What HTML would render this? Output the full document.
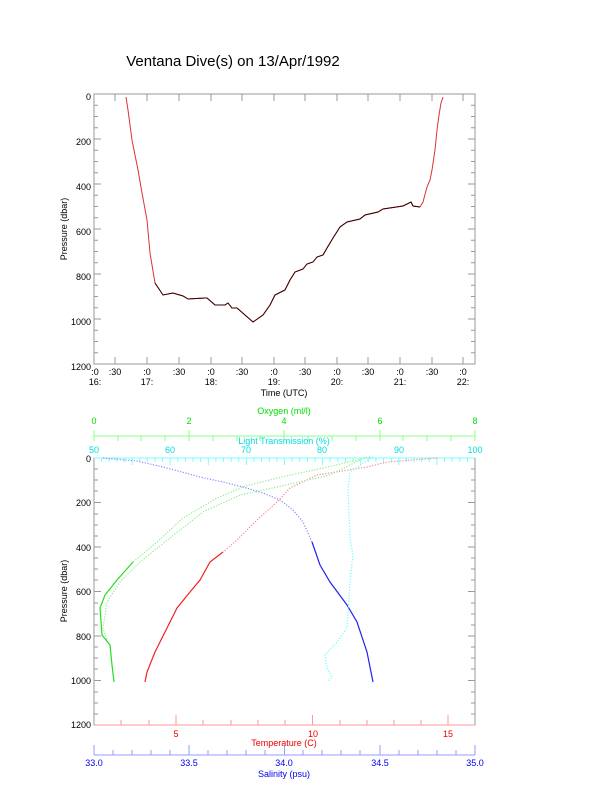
<!DOCTYPE html>
<html><head><meta charset="utf-8"><style>
body{margin:0;background:#fff}
svg{display:block}
text{font-family:"Liberation Sans",sans-serif;font-size:9px}
</style></head><body>
<svg width="612" height="785" viewBox="0 0 612 785" xmlns="http://www.w3.org/2000/svg">
<text x="233" y="66" text-anchor="middle" style="font-size:15px">Ventana Dive(s) on 13/Apr/1992</text>
<!-- top plot -->
<rect x="94" y="94" width="381" height="270" fill="none" stroke="#999" stroke-width="1"/>
<g stroke="#999" stroke-width="1" id="pt">
<path d="M94 105.25h4M94 116.5h4M94 127.75h4M94 139h7M94 150.25h4M94 161.5h4M94 172.75h4M94 184h7M94 195.25h4M94 206.5h4M94 217.75h4M94 229h7M94 240.25h4M94 251.5h4M94 262.75h4M94 274h7M94 285.25h4M94 296.5h4M94 307.75h4M94 319h7M94 330.25h4M94 341.5h4M94 352.75h4"/>
<path d="M475 105.25h-4M475 116.5h-4M475 127.75h-4M475 139h-7M475 150.25h-4M475 161.5h-4M475 172.75h-4M475 184h-7M475 195.25h-4M475 206.5h-4M475 217.75h-4M475 229h-7M475 240.25h-4M475 251.5h-4M475 262.75h-4M475 274h-7M475 285.25h-4M475 296.5h-4M475 307.75h-4M475 319h-7M475 330.25h-4M475 341.5h-4M475 352.75h-4"/>
<path d="M115 364v-7M147 364v-7M179 364v-7M211 364v-7M242 364v-7M274 364v-7M305 364v-7M337 364v-7M368 364v-7M400 364v-7M432 364v-7M463 364v-7"/>
<path d="M115 94v7M147 94v7M179 94v7M211 94v7M242 94v7M274 94v7M305 94v7M337 94v7M368 94v7M400 94v7M432 94v7M463 94v7"/>
</g>
<g text-anchor="end">
<text x="91" y="100">0</text><text x="91" y="145">200</text><text x="91" y="190">400</text><text x="91" y="235">600</text><text x="91" y="280">800</text><text x="91" y="325">1000</text><text x="91" y="370">1200</text>
</g>
<g text-anchor="middle">
<text x="95" y="375">:0</text><text x="115" y="375">:30</text><text x="147" y="375">:0</text><text x="179" y="375">:30</text><text x="211" y="375">:0</text><text x="242" y="375">:30</text><text x="274" y="375">:0</text><text x="305" y="375">:30</text><text x="337" y="375">:0</text><text x="368" y="375">:30</text><text x="400" y="375">:0</text><text x="432" y="375">:30</text><text x="463" y="375">:0</text>
<text x="95" y="385">16:</text><text x="147" y="385">17:</text><text x="211" y="385">18:</text><text x="274" y="385">19:</text><text x="337" y="385">20:</text><text x="400" y="385">21:</text><text x="463" y="385">22:</text>
<text x="284" y="396">Time (UTC)</text>
</g>
<text transform="translate(67,229) rotate(-90)" text-anchor="middle">Pressure (dbar)</text>
<polyline fill="none" stroke="#d33" stroke-width="1" points="126,97 128,110 130,125 132,140 135,155 138,170 142,193 147,220 150,253 155,283 163,295 173,293 183,296 188,299 205,298 207,298 215,305 225,305 228,303 232,308 237,308 245,315 253,322 263,315 270,305 275,295 285,290 290,280 295,272 303,269 307,264 313,262 317,257 323,255 327,248 333,238 340,227 347,222 360,219 365,215 378,212 383,209 403,206 411,202 413,206 420,207 423,202 427,187 430,180 432,170 435,150 437,130 439,115 441,103 443,97"/>
<polyline fill="none" stroke="#300" stroke-width="1" points="155,283 163,295 173,293 183,296 188,299 205,298 207,298 215,305 225,305 228,303 232,308 237,308 245,315 253,322 263,315 270,305 275,295 285,290 290,280 295,272 303,269 307,264 313,262 317,257 323,255 327,248 333,238 340,227 347,222 360,219 365,215 378,212 383,209 403,206 411,202 413,206 420,207"/>

<!-- bottom plot -->
<rect x="94" y="458" width="381" height="267" fill="none" stroke="#999"/>
<g stroke="#999">
<path d="M94 469h4M94 480h4M94 491h4M94 502.5h7M94 514h4M94 525h4M94 536h4M94 547h7M94 558h4M94 569h4M94 580h4M94 591.5h7M94 603h4M94 614h4M94 625h4M94 636h7M94 647h4M94 658h4M94 669h4M94 680.5h7M94 692h4M94 703h4M94 714h4"/>
<path d="M475 469h-4M475 480h-4M475 491h-4M475 502.5h-7M475 514h-4M475 525h-4M475 536h-4M475 547h-7M475 558h-4M475 569h-4M475 580h-4M475 591.5h-7M475 603h-4M475 614h-4M475 625h-4M475 636h-7M475 647h-4M475 658h-4M475 669h-4M475 680.5h-7M475 692h-4M475 703h-4M475 714h-4"/>
</g>
<g text-anchor="end">
<text x="91" y="462">0</text><text x="91" y="506">200</text><text x="91" y="551">400</text><text x="91" y="595">600</text><text x="91" y="640">800</text><text x="91" y="684">1000</text><text x="91" y="728">1200</text>
</g>
<text transform="translate(67,591) rotate(-90)" text-anchor="middle">Pressure (dbar)</text>
<!-- oxygen axis -->
<g stroke="#8f8"><path d="M94 436h381M94 430v11M118 436v5M141 436v5M165 436v5M189 430v11M213 436v5M237 436v5M260 436v5M284 430v11M308 436v5M332 436v5M356 436v5M380 430v11M403 436v5M427 436v5M451 436v5M475 430v11"/></g>
<g fill="#0d0" text-anchor="middle"><text x="94" y="424">0</text><text x="189" y="424">2</text><text x="284" y="424">4</text><text x="380" y="424">6</text><text x="475" y="424">8</text><text x="284" y="414">Oxygen (ml/l)</text></g>
<!-- light transmission -->
<g stroke="#7ff"><path d="M94 458h381M101.6 458v4M109.2 458v4M116.9 458v4M124.5 458v4M132.1 458v7M139.7 458v4M147.3 458v4M155 458v4M162.6 458v4M170.2 458v7M177.8 458v4M185.4 458v4M193.1 458v4M200.7 458v4M208.3 458v7M215.9 458v4M223.5 458v4M231.2 458v4M238.8 458v4M246.4 458v7M254 458v4M261.6 458v4M269.3 458v4M276.9 458v4M284.5 458v7M292.1 458v4M299.7 458v4M307.4 458v4M315 458v4M322.6 458v7M330.2 458v4M337.8 458v4M345.5 458v4M353.1 458v4M360.7 458v7M368.3 458v4M375.9 458v4M383.6 458v4M391.2 458v4M398.8 458v7M406.4 458v4M414 458v4M421.7 458v4M429.3 458v4M436.9 458v7M444.5 458v4M452.1 458v4M459.8 458v4M467.4 458v4"/></g>
<g fill="#0dd" text-anchor="middle"><text x="94" y="453">50</text><text x="170" y="453">60</text><text x="246" y="453">70</text><text x="322" y="453">80</text><text x="399" y="453">90</text><text x="475" y="453">100</text><text x="284" y="444">Light Transmission (%)</text></g>
<!-- temperature axis -->
<g stroke="#f99"><path d="M94 725h381M121 725v-5M149 725v-5M176 725v-10M203 725v-5M231 725v-5M258 725v-5M285 725v-5M312.5 725v-10M340 725v-5M367 725v-5M394 725v-5M421 725v-5M448 725v-10"/></g>
<g fill="#e00" text-anchor="middle"><text x="176" y="737">5</text><text x="313" y="737">10</text><text x="448" y="737">15</text><text x="284" y="746">Temperature (C)</text></g>
<!-- salinity axis -->
<g stroke="#99f"><path d="M94 755h381M94 745v10M113 750v5M132 750v5M151 750v5M170 750v5M189 745v10M208 750v5M227 750v5M246 750v5M265 750v5M284.5 745v10M303 750v5M322 750v5M341 750v5M360 750v5M380 745v10M399 750v5M418 750v5M437 750v5M456 750v5M475 745v10"/></g>
<g fill="#00e" text-anchor="middle"><text x="94" y="766">33.0</text><text x="189" y="766">33.5</text><text x="284" y="766">34.0</text><text x="380" y="766">34.5</text><text x="475" y="766">35.0</text><text x="284" y="777">Salinity (psu)</text></g>
<!-- profiles -->
<g fill="none" stroke-width="1.2" stroke-dasharray="1.2 1.6">
<polyline stroke="#88f" points="103,458 137,461 167,468 200,477 223,482 243,487 263,493 280,500 293,510 303,522 312,542"/>
<polyline stroke="#22e" stroke-dasharray="none" points="312,542 320,565 330,582 347,605 357,622 367,652 373,682"/>
<polyline stroke="#f88" points="437,458 387,462 367,467 317,475 290,488 277,502 257,520 237,540 223,552"/>
<polyline stroke="#e22" stroke-dasharray="none" points="223,552 210,562 200,580 190,592 177,608 167,628 155,652 147,672 145,682"/>
<polyline stroke="#8e8" points="370,457 323,468 277,478 243,487 217,498 183,518 157,542 133,562"/>
<polyline stroke="#8e8" points="360,460 330,475 277,487 240,495 203,512 170,538 140,562 120,582 107,602 103,628 107,640"/>
<polyline stroke="#2d2" stroke-dasharray="none" points="133,562 117,580 105,595 100,608 102,635 110,645 112,665 114,682"/>
<polyline stroke="#6ff" points="373,457 350,472 348,488 350,538 353,555 350,582 348,615 347,628 337,642 325,655 327,668 332,677 327,682"/>
</g>
</svg>
</body></html>
